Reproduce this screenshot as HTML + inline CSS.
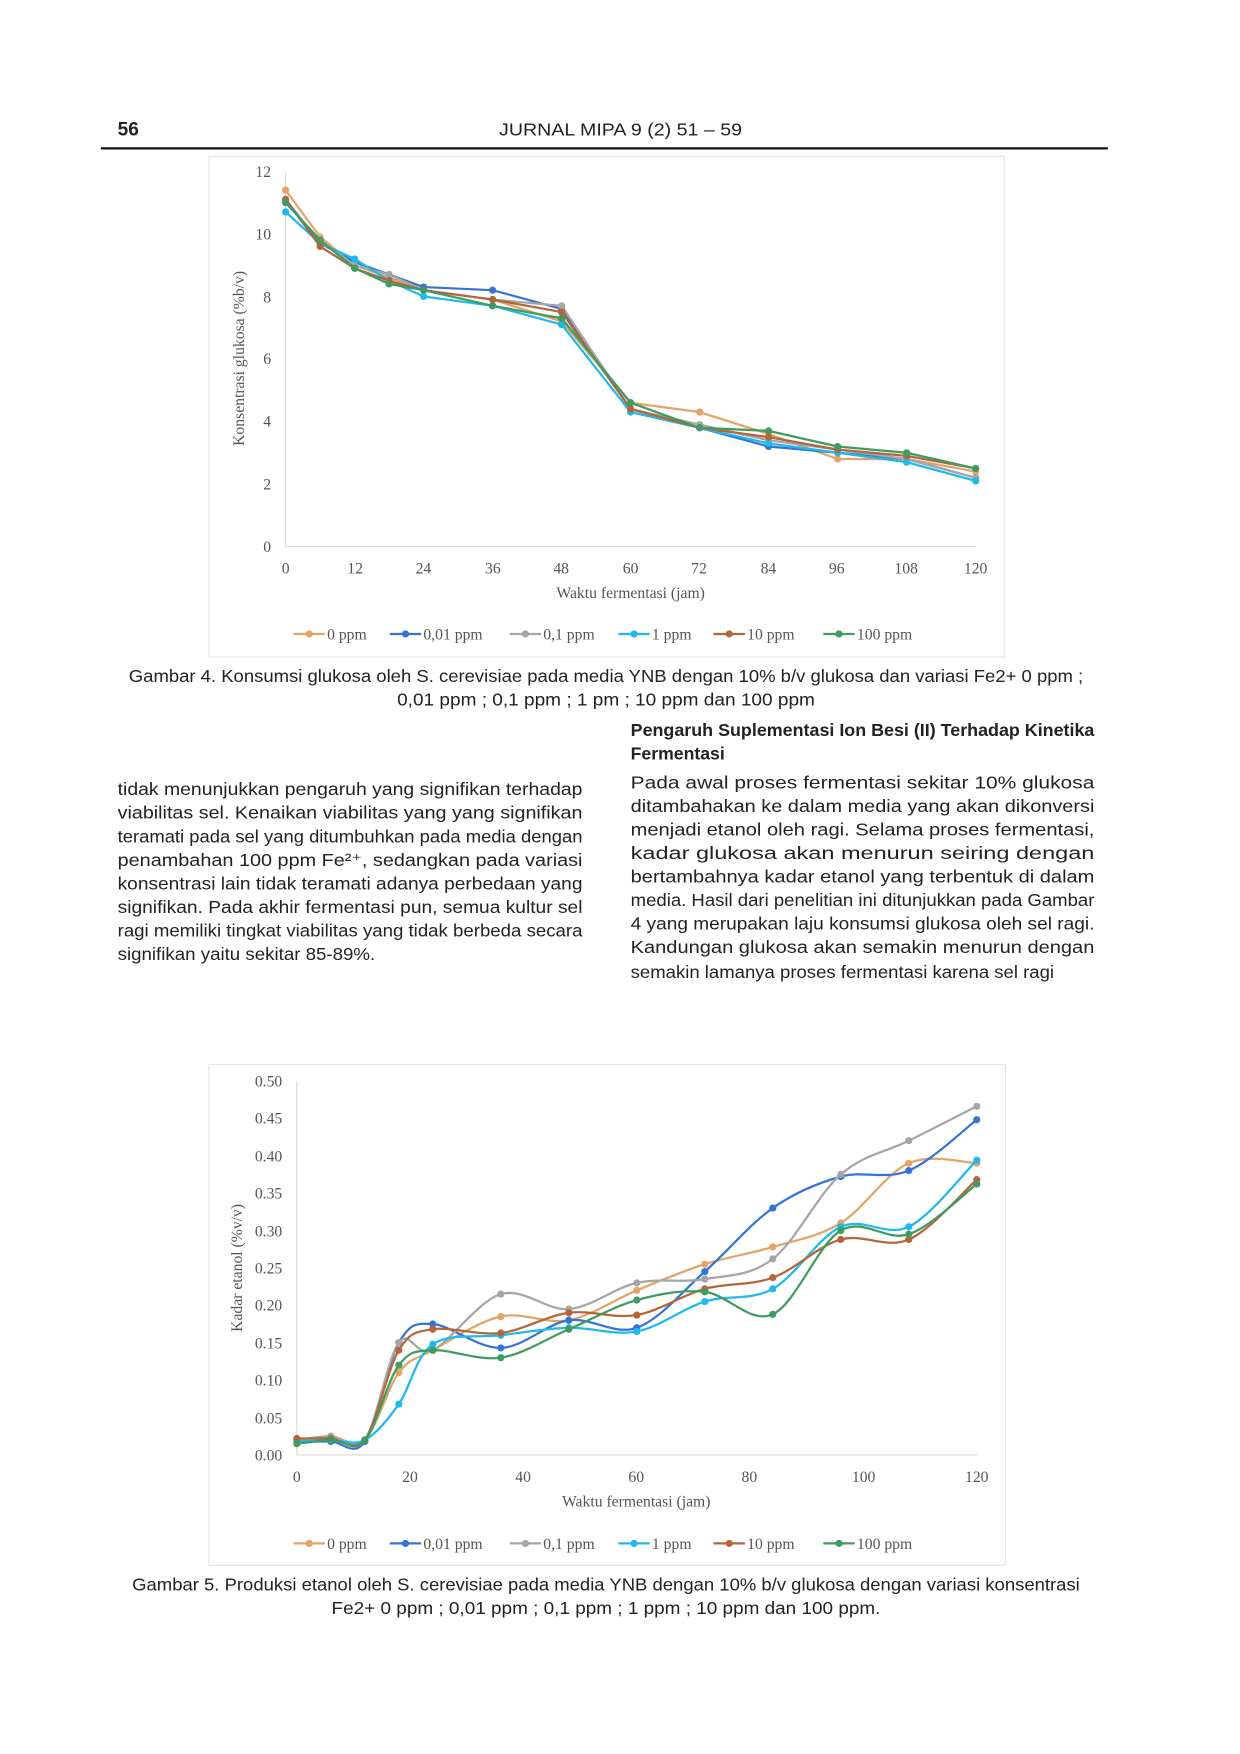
<!DOCTYPE html>
<html><head><meta charset="utf-8"><style>
html,body{margin:0;padding:0;background:#fff}
svg{display:block}
.s{font-family:"Liberation Sans",sans-serif;fill:#222}
.r{font-family:"Liberation Serif",serif;fill:#555}
</style></head><body>
<svg id="g" width="1240" height="1754" viewBox="0 0 1107 1566" preserveAspectRatio="none" xmlns="http://www.w3.org/2000/svg">
<rect width="1107" height="1566" fill="#fff"/>
<text class="s" x="105" y="121" font-size="17" font-weight="bold" fill="#111">56</text>
<text class="s" x="554" y="121" font-size="16" text-anchor="middle" fill="#222" textLength="217" lengthAdjust="spacingAndGlyphs">JURNAL MIPA 9 (2) 51 – 59</text>
<line x1="90" y1="132.5" x2="989" y2="132.5" stroke="#111" stroke-width="2"/>

<rect x="186.5" y="139.5" width="710" height="447" fill="#fff" stroke="#e4e4e4"/>
<line x1="255" y1="153" x2="255" y2="488" stroke="#d8d8d8"/>
<line x1="255" y1="488" x2="871" y2="488" stroke="#d8d8d8"/>
<g class="r" font-size="14" text-anchor="end">
<text x="242" y="158">12</text><text x="242" y="214">10</text><text x="242" y="270">8</text><text x="242" y="325">6</text><text x="242" y="381">4</text><text x="242" y="437">2</text><text x="242" y="493">0</text>
</g>
<g class="r" font-size="14" text-anchor="middle">
<text x="255" y="512">0</text><text x="317" y="512">12</text><text x="378" y="512">24</text><text x="440" y="512">36</text><text x="501" y="512">48</text><text x="563" y="512">60</text><text x="624" y="512">72</text><text x="686" y="512">84</text><text x="747" y="512">96</text><text x="809" y="512">108</text><text x="871" y="512">120</text>
<text x="563" y="534" font-size="14">Waktu fermentasi (jam)</text>
</g>
<text class="r" font-size="14" text-anchor="middle" transform="translate(218,320) rotate(-90)">Konsentrasi glukosa (%b/v)</text>
<g id="c1"></g>
<g id="l1"></g>

<text class="s" x="115" y="609" font-size="15.5" textLength="852" lengthAdjust="spacingAndGlyphs">Gambar 4. Konsumsi glukosa oleh S. cerevisiae pada media YNB dengan 10% b/v glukosa dan variasi Fe2+ 0 ppm ;</text>
<text class="s" x="541" y="630" font-size="15.5" text-anchor="middle" textLength="373" lengthAdjust="spacingAndGlyphs">0,01 ppm ; 0,1 ppm ; 1 pm ; 10 ppm dan 100 ppm</text>

<g class="s" font-size="15.5">
<text x="563" y="657" font-weight="bold" textLength="414" lengthAdjust="spacingAndGlyphs">Pengaruh Suplementasi Ion Besi (II) Terhadap Kinetika</text>
<text x="563" y="678" font-weight="bold" textLength="84" lengthAdjust="spacingAndGlyphs">Fermentasi</text>
<text x="105" y="710" textLength="415" lengthAdjust="spacingAndGlyphs">tidak menunjukkan pengaruh yang signifikan terhadap</text>
<text x="105" y="731" textLength="415" lengthAdjust="spacingAndGlyphs">viabilitas sel. Kenaikan viabilitas yang yang signifikan</text>
<text x="105" y="752" textLength="415" lengthAdjust="spacingAndGlyphs">teramati pada sel yang ditumbuhkan pada media dengan</text>
<text x="105" y="773" textLength="415" lengthAdjust="spacingAndGlyphs">penambahan 100 ppm Fe²⁺, sedangkan pada variasi</text>
<text x="105" y="794" textLength="415" lengthAdjust="spacingAndGlyphs">konsentrasi lain tidak teramati adanya perbedaan yang</text>
<text x="105" y="815" textLength="415" lengthAdjust="spacingAndGlyphs">signifikan. Pada akhir fermentasi pun, semua kultur sel</text>
<text x="105" y="836" textLength="415" lengthAdjust="spacingAndGlyphs">ragi memiliki tingkat viabilitas yang tidak berbeda secara</text>
<text x="105" y="857" textLength="230" lengthAdjust="spacingAndGlyphs">signifikan yaitu sekitar 85-89%.</text>
<text x="563" y="704" textLength="414" lengthAdjust="spacingAndGlyphs">Pada awal proses fermentasi sekitar 10% glukosa</text>
<text x="563" y="725" textLength="414" lengthAdjust="spacingAndGlyphs">ditambahakan ke dalam media yang akan dikonversi</text>
<text x="563" y="746" textLength="414" lengthAdjust="spacingAndGlyphs">menjadi etanol oleh ragi. Selama proses fermentasi,</text>
<text x="563" y="767" textLength="414" lengthAdjust="spacingAndGlyphs">kadar glukosa akan menurun seiring dengan</text>
<text x="563" y="788" textLength="414" lengthAdjust="spacingAndGlyphs">bertambahnya kadar etanol yang terbentuk di dalam</text>
<text x="563" y="809" textLength="414" lengthAdjust="spacingAndGlyphs">media. Hasil dari penelitian ini ditunjukkan pada Gambar</text>
<text x="563" y="830" textLength="414" lengthAdjust="spacingAndGlyphs">4 yang merupakan laju konsumsi glukosa oleh sel ragi.</text>
<text x="563" y="851" textLength="414" lengthAdjust="spacingAndGlyphs">Kandungan glukosa akan semakin menurun dengan</text>
<text x="563" y="873" textLength="378" lengthAdjust="spacingAndGlyphs">semakin lamanya proses fermentasi karena sel ragi</text>
</g>

<rect x="186.5" y="950.5" width="711" height="447" fill="#fff" stroke="#e4e4e4"/>
<line x1="265" y1="965" x2="265" y2="1299" stroke="#d8d8d8"/>
<line x1="265" y1="1299" x2="872" y2="1299" stroke="#d8d8d8"/>
<g class="r" font-size="14" text-anchor="end">
<text x="252" y="970">0.50</text><text x="252" y="1003">0.45</text><text x="252" y="1037">0.40</text><text x="252" y="1070">0.35</text><text x="252" y="1104">0.30</text><text x="252" y="1137">0.25</text><text x="252" y="1170">0.20</text><text x="252" y="1204">0.15</text><text x="252" y="1237">0.10</text><text x="252" y="1271">0.05</text><text x="252" y="1304">0.00</text>
</g>
<g class="r" font-size="14" text-anchor="middle">
<text x="265" y="1323">0</text><text x="366" y="1323">20</text><text x="467" y="1323">40</text><text x="568" y="1323">60</text><text x="669" y="1323">80</text><text x="771" y="1323">100</text><text x="872" y="1323">120</text>
<text x="568" y="1345">Waktu fermentasi (jam)</text>
</g>
<text class="r" font-size="14" text-anchor="middle" transform="translate(216,1132) rotate(-90)">Kadar etanol (%v/v)</text>
<g id="c2"></g>
<g id="l2"></g>

<text class="s" x="118" y="1420" font-size="15.5" textLength="846" lengthAdjust="spacingAndGlyphs">Gambar 5. Produksi etanol oleh S. cerevisiae pada media YNB dengan 10% b/v glukosa dengan variasi konsentrasi</text>
<text class="s" x="541" y="1441" font-size="15.5" text-anchor="middle" textLength="490" lengthAdjust="spacingAndGlyphs">Fe2+ 0 ppm ; 0,01 ppm ; 0,1 ppm ; 1 ppm ; 10 ppm dan 100 ppm.</text>
</svg>
<script>
var NS="http://www.w3.org/2000/svg";
var cols=["#E3A466","#3574D6","#A6A6A6","#1FB9EE","#B5653A","#3E9B62"];
var names=["0 ppm","0,01 ppm","0,1 ppm","1 ppm","10 ppm","100 ppm"];
var X=[0,6,12,18,24,36,48,60,72,84,96,108,120];
var d1=[[11.4,9.9,9.0,8.6,8.2,7.9,7.2,4.6,4.3,3.6,2.8,2.8,2.4],
[11.1,9.7,9.1,8.7,8.3,8.2,7.6,4.4,3.8,3.2,3.0,2.8,2.2],
[11.0,9.8,9.0,8.7,8.2,7.9,7.7,4.4,3.9,3.4,3.1,2.8,2.2],
[10.7,9.7,9.2,8.5,8.0,7.7,7.1,4.3,3.8,3.3,3.0,2.7,2.1],
[11.1,9.6,8.9,8.5,8.2,7.9,7.5,4.4,3.8,3.5,3.1,2.9,2.5],
[11.0,9.8,8.9,8.4,8.2,7.7,7.3,4.6,3.8,3.7,3.2,3.0,2.5]];
var d2=[[.02,.025,.02,.11,.14,.185,.18,.22,.255,.278,.31,.39,.39],
[.018,.018,.018,.15,.175,.143,.18,.17,.245,.33,.372,.38,.448],
[.02,.025,.02,.15,.14,.215,.195,.23,.235,.262,.375,.42,.466],
[.018,.02,.02,.068,.148,.16,.17,.165,.205,.222,.305,.305,.394],
[.022,.022,.02,.14,.168,.163,.19,.187,.222,.237,.288,.288,.368],
[.015,.02,.02,.12,.14,.13,.168,.207,.218,.188,.3,.295,.362]];
function el(t,a,p){var e=document.createElementNS(NS,t);for(var k in a)e.setAttribute(k,a[k]);p.appendChild(e);return e;}
function draw(g,data,fx,fy,smooth){
 data.forEach(function(s,i){
  var P=s.map(function(v,j){return [fx(X[j]),fy(v)];});
  var d="M"+P[0][0]+","+P[0][1];
  for(var j=1;j<P.length;j++){
   if(!smooth){d+=" L"+P[j][0]+","+P[j][1];continue;}
   var p0=P[j-2]||P[j-1],p1=P[j-1],p2=P[j],p3=P[j+1]||P[j];
   var t=1/6;
   var c1=[p1[0]+(p2[0]-p0[0])*t,p1[1]+(p2[1]-p0[1])*t];
   var c2=[p2[0]-(p3[0]-p1[0])*t,p2[1]-(p3[1]-p1[1])*t];
   d+=" C"+c1+" "+c2+" "+p2;
  }
  el("path",{d:d,fill:"none",stroke:cols[i],"stroke-width":2},g);
  P.forEach(function(p){el("circle",{cx:p[0],cy:p[1],r:3.2,fill:cols[i]},g);});
 });
}
function legend(g,y){
 var xs=[262,348,455,552,637,735];
 xs.forEach(function(x,i){
  el("line",{x1:x,y1:y,x2:x+28,y2:y,stroke:cols[i],"stroke-width":2},g);
  el("circle",{cx:x+14,cy:y,r:3.2,fill:cols[i]},g);
  var t=el("text",{x:x+30,y:y+5,"font-size":14,"class":"r"},g);t.textContent=names[i];
 });
}
draw(document.getElementById("c1"),d1,function(x){return 255+x*616/120},function(v){return 488-v*335/12},false);
draw(document.getElementById("c2"),d2,function(x){return 265+x*607/120},function(v){return 1299-v*668},true);
legend(document.getElementById("l1"),566);
legend(document.getElementById("l2"),1378);
</script>
</body></html>
